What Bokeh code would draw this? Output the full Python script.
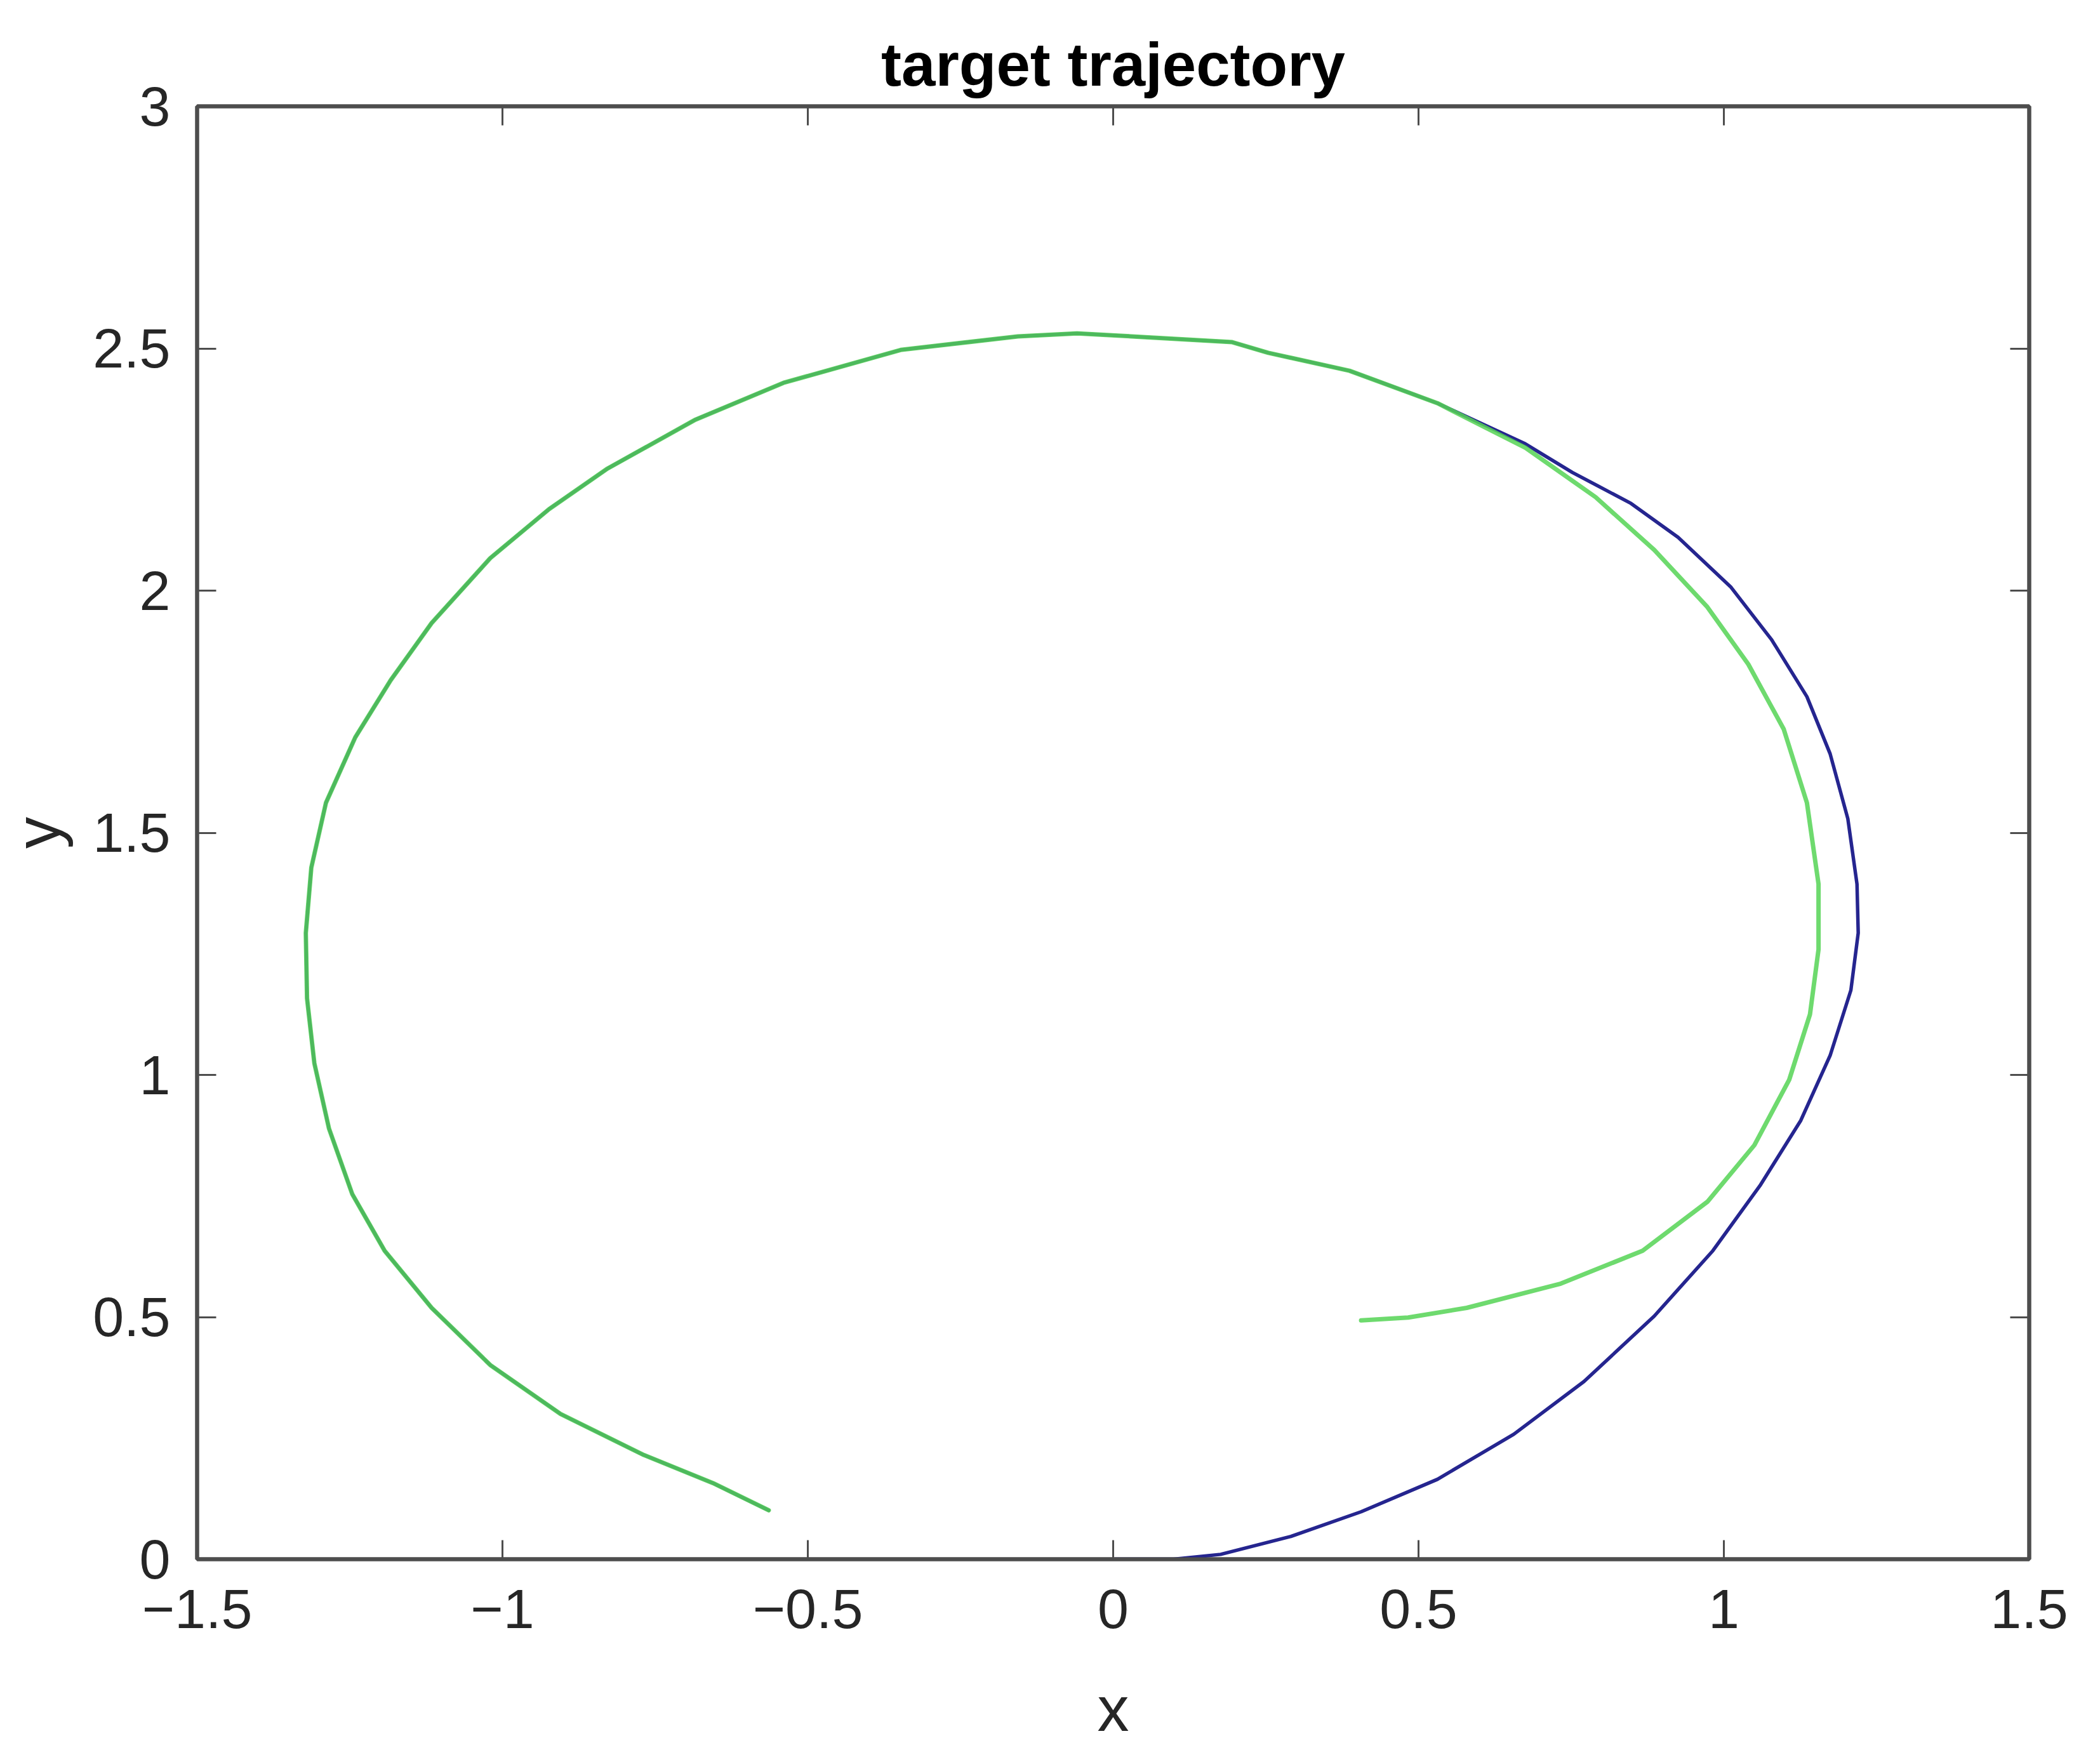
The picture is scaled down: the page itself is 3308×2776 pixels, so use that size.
from bokeh.plotting import figure
from bokeh.models import LinearAxis, FixedTicker, Range1d
from bokeh.embed import file_html
from bokeh.resources import INLINE

# ---- data ----
# blue trajectory: starts at the origin, swings out to the right, then joins the green arc
blue_x = [0.003, 0.099, 0.176, 0.291, 0.406, 0.531, 0.656, 0.771, 0.886, 0.982,
          1.059, 1.126, 1.174, 1.208, 1.220, 1.218, 1.203, 1.174, 1.136, 1.078,
          1.011, 0.925, 0.848, 0.752, 0.675, 0.531, 0.486, 0.387, 0.254, 0.195,
          0.003, -0.059, -0.156, -0.348, -0.540, -0.684, -0.828, -0.924, -1.020,
          -1.116, -1.183, -1.241, -1.289, -1.313, -1.322, -1.320, -1.308, -1.284,
          -1.246, -1.193, -1.116, -1.020, -0.905, -0.770, -0.655, -0.564]
blue_y = [0.000, 0.000, 0.010, 0.047, 0.098, 0.165, 0.258, 0.367, 0.502, 0.637,
          0.771, 0.906, 1.040, 1.175, 1.293, 1.394, 1.529, 1.663, 1.781, 1.899,
          2.008, 2.110, 2.180, 2.244, 2.303, 2.387, 2.408, 2.454, 2.491, 2.513,
          2.527, 2.531, 2.525, 2.497, 2.429, 2.353, 2.252, 2.168, 2.067,
          1.933, 1.815, 1.697, 1.562, 1.428, 1.293, 1.158, 1.024, 0.889,
          0.754, 0.637, 0.519, 0.401, 0.300, 0.216, 0.157, 0.101]

# green trajectory: starts near (0.4, 0.5), loops counter-clockwise, ends near (-0.56, 0.1)
green_x = [0.406, 0.483, 0.579, 0.733, 0.867, 0.973, 1.050, 1.107, 1.141, 1.155,
           1.155, 1.136, 1.098, 1.040, 0.973, 0.886, 0.790, 0.675, 0.531, 0.486,
           0.387, 0.254, 0.195, 0.003, -0.059, -0.156, -0.348, -0.540, -0.684,
           -0.828, -0.924, -1.020, -1.116, -1.183, -1.241, -1.289, -1.313,
           -1.322, -1.320, -1.308, -1.284, -1.246, -1.193, -1.116, -1.020,
           -0.905, -0.770, -0.655, -0.564]
green_y = [0.493, 0.499, 0.519, 0.569, 0.637, 0.738, 0.855, 0.990, 1.125, 1.259,
           1.394, 1.562, 1.714, 1.848, 1.966, 2.084, 2.193, 2.295, 2.387, 2.408,
           2.454, 2.491, 2.513, 2.527, 2.531, 2.525, 2.497, 2.429, 2.353,
           2.252, 2.168, 2.067, 1.933, 1.815, 1.697, 1.562, 1.428,
           1.293, 1.158, 1.024, 0.889, 0.754, 0.637, 0.519, 0.401,
           0.300, 0.216, 0.157, 0.101]

x_ticks = [-1.5, -1.0, -0.5, 0.0, 0.5, 1.0, 1.5]
x_tick_labels = ["\u22121.5", "\u22121", "\u22120.5", "0", "0.5", "1", "1.5"]
y_ticks = [0.0, 0.5, 1.0, 1.5, 2.0, 2.5, 3.0]
y_tick_labels = ["0", "0.5", "1", "1.5", "2", "2.5", "3"]

FONT = "Liberation Sans"
AX = "#4d4d4d"
TXT = "#262626"

p = figure(width=3292, height=2760,
           x_range=Range1d(-1.5, 1.5), y_range=Range1d(0, 3),
           output_backend="svg", toolbar_location=None,
           min_border_left=304, min_border_right=96,
           min_border_top=167, min_border_bottom=304,
           title="target trajectory",
           x_axis_label="x", y_axis_label="y")

p.background_fill_color = "white"
p.border_fill_color = "white"
p.grid.visible = False
p.outline_line_color = AX
p.outline_line_width = 6

p.title.align = "center"
p.title.text_font = FONT
p.title.text_font_size = "96px"
p.title.text_font_style = "bold"
p.title.text_color = "black"
p.title.standoff = 26

for ax, ticks, labels in ((p.xaxis[0], x_ticks, x_tick_labels),
                          (p.yaxis[0], y_ticks, y_tick_labels)):
    ax.ticker = FixedTicker(ticks=ticks)
    ax.major_label_overrides = {t: l for t, l in zip(ticks, labels)}
    ax.major_tick_in = 30
    ax.major_tick_out = 0
    ax.major_tick_line_width = 3
    ax.major_tick_line_color = AX
    ax.minor_tick_line_color = None
    ax.axis_line_color = AX
    ax.axis_line_width = 6
    ax.major_label_text_font = FONT
    ax.major_label_text_font_size = "88px"
    ax.major_label_text_color = TXT
    ax.axis_label_text_font = FONT
    ax.axis_label_text_font_size = "100px"
    ax.axis_label_text_font_style = "normal"
    ax.axis_label_text_color = TXT

p.xaxis[0].major_label_standoff = 48
p.xaxis[0].axis_label_standoff = 68
p.yaxis[0].major_label_standoff = 42
p.yaxis[0].axis_label_standoff = 28

# mirrored inward ticks on the top and right edges (box style), no labels
for loc, ticks in (("above", x_ticks), ("right", y_ticks)):
    ax = LinearAxis(ticker=FixedTicker(ticks=[], minor_ticks=ticks))
    ax.minor_tick_in = 30
    ax.minor_tick_out = 0
    ax.minor_tick_line_width = 3
    ax.minor_tick_line_color = AX
    ax.major_tick_line_color = None
    ax.axis_line_color = AX
    ax.axis_line_width = 6
    p.add_layout(ax, loc)

p.line(blue_x, blue_y, line_color="#25258f", line_width=5.5,
       line_join="round", line_cap="round")
p.line(green_x, green_y, line_color="#55d455", line_width=7, line_alpha=0.85,
       line_join="round", line_cap="round")

open("out.html", "w").write(file_html(p, INLINE))
